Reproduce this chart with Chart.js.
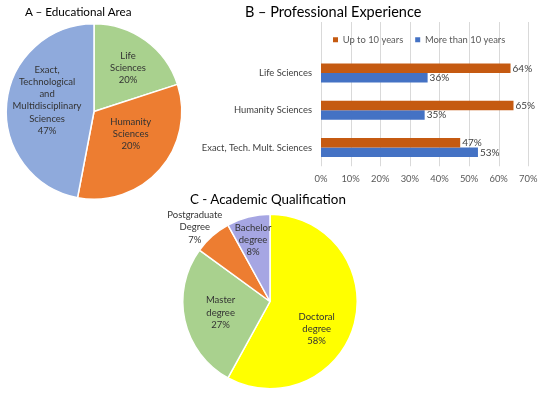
<!DOCTYPE html>
<html>
<head>
<meta charset="utf-8">
<script src="https://cdn.jsdelivr.net/npm/chart.js@4.4.0/dist/chart.umd.min.js"></script>
<style>
    body { margin: 0; background: #fff; }
    #wrap { position: relative; width: 550px; height: 393px; background: #fff; overflow: hidden; }
    #wrap canvas { position: absolute; }
    .title { position: absolute; font-family: Lato, "Liberation Sans", sans-serif; line-height: 16px; color: #000; white-space: nowrap; }
</style>
</head>
<body>
<div id="wrap">
    <canvas id="chartA" width="190" height="205" style="left:0;top:0"></canvas>
    <canvas id="chartB" width="350" height="170" style="left:195px;top:22px"></canvas>
    <canvas id="chartC" width="240" height="188" style="left:150px;top:205px"></canvas>
    <div class="title" style="left:25px;top:2.5px;font-size:11.7px">A – Educational Area</div>
    <div class="title" style="left:245px;top:3.7px;font-size:14.5px">B – Professional Experience</div>
    <div class="title" style="left:190px;top:191px;font-size:13.4px">C - Academic Qualification</div>
</div>
<script>
// A - Educational Area (slice sizes as drawn, printed labels as written)
const areaNames = ['Life\nSciences', 'Humanity\nSciences', 'Exact,\nTechnological\nand\nMultidisciplinary\nSciences'];
const areaShares = [20, 33, 47];
const areaLabels = ['20%', '20%', '47%'];

// B - Professional Experience
const fields = ['Life Sciences', 'Humanity Sciences', 'Exact, Tech. Mult. Sciences'];
const upTo10 = [64, 65, 47];
const moreThan10 = [36, 35, 53];
const pctMax = 70;
const pctStep = 10;

// C - Academic Qualification
const qualNames = ['Doctoral\ndegree', 'Master\ndegree', 'Postgraduate\nDegree', 'Bachelor\ndegree'];
const qualShares = [58, 27, 7, 8];
const qualLabels = ['58%', '27%', '7%', '8%'];

const FONT = 'Lato, "Liberation Sans", sans-serif';

// texte des secteurs, placé à partir de l'arc calculé par Chart.js
const sliceText = {
    id: 'sliceText',
    afterDatasetsDraw(chart, args, opts) {
        const ctx = chart.ctx;
        const meta = chart.getDatasetMeta(0);
        ctx.save();
        ctx.font = '9.5px ' + FONT;
        ctx.fillStyle = '#333';
        ctx.textAlign = 'center';
        ctx.textBaseline = 'middle';
        meta.data.forEach((arc, i) => {
            const p = arc.getProps(['x', 'y', 'startAngle', 'endAngle', 'outerRadius'], true);
            const place = opts.place[i];
            const ang = (p.startAngle + p.endAngle) / 2 + place[1] * Math.PI / 180;
            const r = p.outerRadius * place[0];
            const cx = p.x + Math.cos(ang) * r;
            const cy = p.y + Math.sin(ang) * r;
            const lines = opts.names[i].split('\n').concat(opts.labels[i]);
            const y0 = cy - (lines.length - 1) * 12.2 / 2;
            lines.forEach((t, k) => ctx.fillText(t, cx, y0 + k * 12.2));
        });
        ctx.restore();
    }
};

new Chart(document.getElementById('chartA'), {
    type: 'pie',
    data: {
        labels: areaNames,
        datasets: [{
            data: areaShares,
            backgroundColor: ['#a9d18e', '#ed7d31', '#8faadc'],
            borderColor: '#fff',
            borderWidth: 1.5
        }]
    },
    options: {
        responsive: false,
        animation: false,
        layout: { padding: { left: 5, right: 7, top: 23, bottom: 5 } },
        plugins: {
            legend: { display: false },
            tooltip: { enabled: false },
            sliceText: { names: areaNames, labels: areaLabels, place: [[0.63, 2], [0.49, -10], [0.55, 8]] }
        }
    },
    plugins: [sliceText]
});

new Chart(document.getElementById('chartC'), {
    type: 'pie',
    data: {
        labels: qualNames,
        datasets: [{
            data: qualShares,
            backgroundColor: ['#ffff00', '#a9d18e', '#ed7d31', '#a6a6e3'],
            borderColor: '#fff',
            borderWidth: 1.5
        }]
    },
    options: {
        responsive: false,
        animation: false,
        layout: { padding: { left: 32, right: 32, top: 8, bottom: 3 } },
        plugins: {
            legend: { display: false },
            tooltip: { enabled: false },
            sliceText: { names: qualNames, labels: qualLabels, place: [[0.62, 16], [0.58, 0], [1.21, -4], [0.73, -1]] }
        }
    },
    plugins: [sliceText]
});

// grille verticale qui monte jusque sous le titre, comme dans Excel
const fullGrid = {
    id: 'fullGrid',
    beforeDraw(chart) {
        const { ctx, chartArea, scales: { x } } = chart;
        ctx.save();
        ctx.strokeStyle = '#d9d9d9';
        ctx.lineWidth = 1;
        x.ticks.forEach(t => {
            const px = Math.round(x.getPixelForValue(t.value)) + 0.5;
            ctx.beginPath();
            ctx.moveTo(px, 0);
            ctx.lineTo(px, chartArea.bottom);
            ctx.stroke();
        });
        ctx.restore();
    }
};

const barValues = {
    id: 'barValues',
    afterDatasetsDraw(chart) {
        const ctx = chart.ctx;
        ctx.save();
        ctx.font = '10px ' + FONT;
        ctx.fillStyle = '#404040';
        ctx.textAlign = 'left';
        ctx.textBaseline = 'middle';
        chart.data.datasets.forEach((ds, d) => {
            chart.getDatasetMeta(d).data.forEach((bar, i) => {
                ctx.fillText(ds.data[i] + '%', bar.x + 2, bar.y);
            });
        });
        ctx.restore();
    }
};

new Chart(document.getElementById('chartB'), {
    type: 'bar',
    data: {
        labels: fields,
        datasets: [
            { label: 'Up to 10 years', data: upTo10, backgroundColor: '#c55a11', borderWidth: 0 },
            { label: 'More than 10 years', data: moreThan10, backgroundColor: '#4472c4', borderWidth: 0 }
        ]
    },
    options: {
        responsive: false,
        animation: false,
        indexAxis: 'y',
        categoryPercentage: 0.51,
        barPercentage: 1,
        layout: { padding: { left: 0, right: 0, top: 1, bottom: 0 } },
        scales: {
            x: {
                min: 0,
                max: pctMax,
                grid: { display: false, drawTicks: false },
                border: { display: false },
                ticks: {
                    stepSize: pctStep,
                    padding: 7.5,
                    color: '#595959',
                    font: { family: FONT, size: 9.4 },
                    callback: v => v + '%'
                },
                afterFit: s => { s.height = 25.75; }
            },
            y: {
                grid: { display: false, drawTicks: false },
                border: { display: false },
                ticks: { padding: 9, color: '#404040', font: { family: FONT, size: 9.4 } },
                afterFit: s => { s.width = 126; }
            }
        },
        plugins: {
            legend: {
                fullSize: false,
                align: 'start',
                labels: {
                    boxWidth: 5,
                    boxHeight: 5,
                    padding: 12,
                    color: '#595959',
                    font: { family: FONT, size: 9.4 }
                }
            },
            tooltip: { enabled: false }
        }
    },
    plugins: [fullGrid, barValues]
});
</script>
</body>
</html>
